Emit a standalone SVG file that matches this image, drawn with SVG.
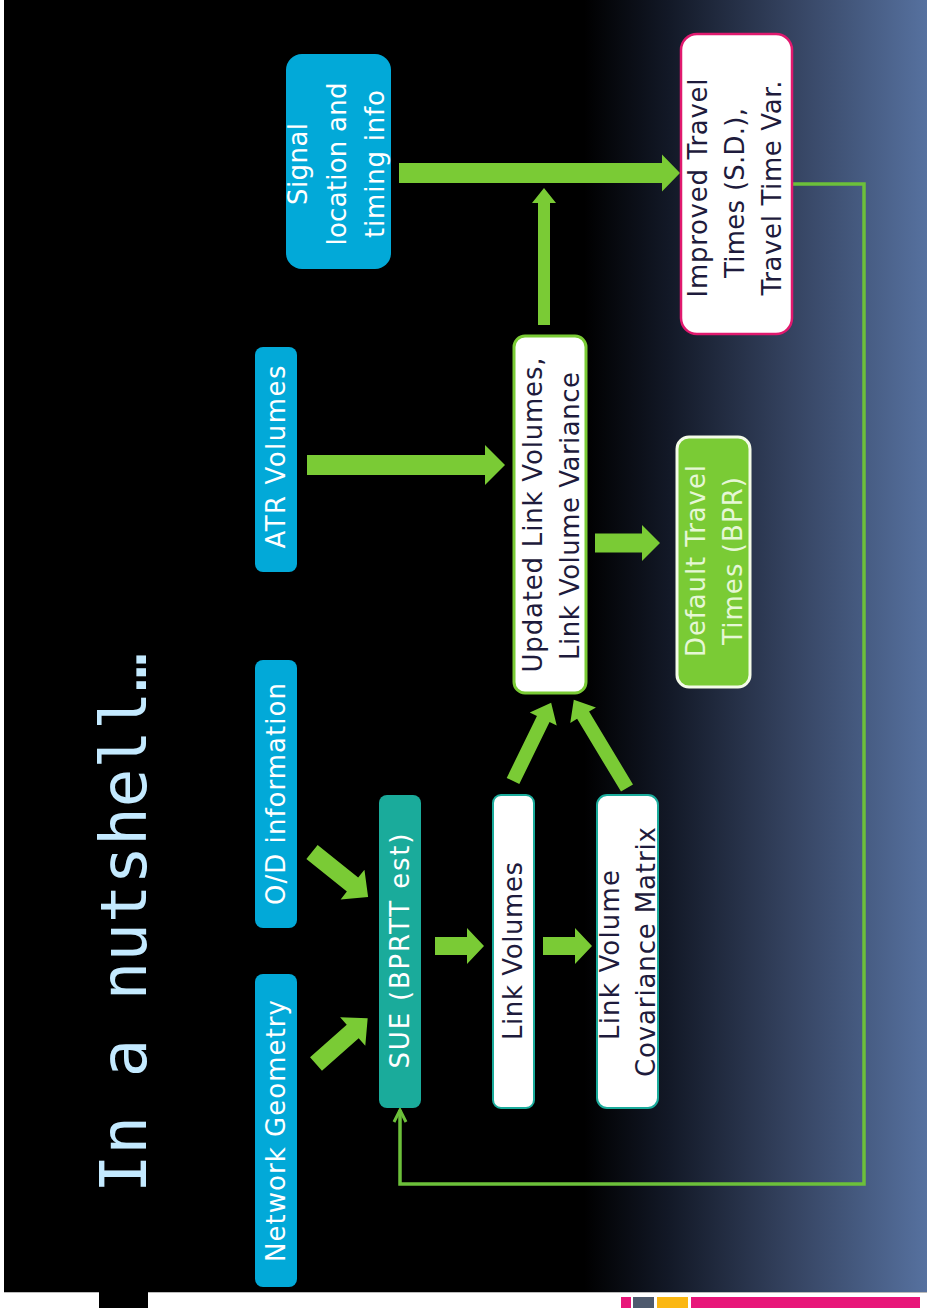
<svg xmlns="http://www.w3.org/2000/svg" width="927" height="1311" viewBox="0 0 927 1311">
<defs>
<linearGradient id="bg" x1="0" y1="0" x2="927" y2="0" gradientUnits="userSpaceOnUse">
<stop offset="0" stop-color="#000"/>
<stop offset="0.63" stop-color="#000"/>
<stop offset="0.72" stop-color="#121826"/>
<stop offset="0.85" stop-color="#34425f"/>
<stop offset="1" stop-color="#56719f"/>
</linearGradient>
<marker id="open" viewBox="0 0 16 16" refX="14" refY="8" markerWidth="16" markerHeight="16" markerUnits="userSpaceOnUse" orient="auto">
<path d="M2,2 L14,8 L2,14" fill="none" stroke="#6cc03a" stroke-width="3"/>
</marker>
<style>
.t{font-family:"DejaVu Sans","Open Sans",sans-serif;font-size:26px;text-anchor:middle}
.w{fill:#ffffff}
.d{fill:#1e1b3c}
.g{fill:#e6f7d6}
.blue{fill:#02a9d8}
.arr{fill:#7acb35}
</style>
</defs>
<rect x="0" y="0" width="927" height="1311" fill="#fff"/>
<rect x="4" y="0" width="923" height="1292" fill="url(#bg)"/>
<line x1="4" y1="1292.5" x2="927" y2="1292.5" stroke="#bbb" stroke-width="1"/>
<rect x="99" y="1292" width="49" height="16" fill="#000"/>
<g id="colorbar">
<rect x="621" y="1297" width="10" height="11" fill="#e8177a"/>
<rect x="633" y="1297" width="21" height="11" fill="#4e5a6e"/>
<rect x="657" y="1297" width="31" height="11" fill="#fbb712"/>
<rect x="691" y="1297" width="229" height="11" fill="#e8177a"/>
</g>
<g id="title">
<text transform="translate(146,1193) rotate(-90)" font-family="'DejaVu Sans Mono',monospace" font-size="64" fill="#c4eaff" textLength="540">In a nutshell…</text>
</g>

<g id="connectors">
<polygon class="arr" transform="translate(316,1064) rotate(-41.5)" points="0,-9 49,-9 49,-19 69,0 49,19 49,9 0,9"/>
<polygon class="arr" transform="translate(312,852) rotate(38.8)" points="0,-9 52,-9 52,-19 72,0 52,19 52,9 0,9"/>
<polygon class="arr" transform="translate(435,946)" points="0,-9 32,-9 32,-18 49,0 32,18 32,9 0,9"/>
<polygon class="arr" transform="translate(543,946)" points="0,-9 32,-9 32,-18 49,0 32,18 32,9 0,9"/>
<polygon class="arr" transform="translate(513,781) rotate(-64)" points="0,-7 69,-7 69,-15 87,0 69,15 69,7 0,7"/>
<polygon class="arr" transform="translate(627,788) rotate(-121.1)" points="0,-7 85,-7 85,-15 103,0 85,15 85,7 0,7"/>
<polygon class="arr" transform="translate(307,465)" points="0,-10 178,-10 178,-20 198,0 178,20 178,10 0,10"/>
<polygon class="arr" transform="translate(595,543)" points="0,-9.5 47,-9.5 47,-18 65,0 47,18 47,9.5 0,9.5"/>
<polygon class="arr" transform="translate(544,325) rotate(-90)" points="0,-6 122,-6 122,-12 137,0 122,12 122,6 0,6"/>
<polygon class="arr" transform="translate(399,173)" points="0,-10 263,-10 263,-18.5 281,0 263,18.5 263,10 0,10"/>
<path d="M793,184 H864 V1184 H400 V1110" fill="none" stroke="#6cc03a" stroke-width="3.5" marker-end="url(#open)"/>
</g>

<g id="network-geometry">
<rect class="blue" x="255" y="974" width="42" height="313" rx="8"/>
<text class="t w" transform="translate(285,1131) rotate(-90)" textLength="262">Network Geometry</text>
</g>
<g id="od-information">
<rect class="blue" x="255" y="660" width="42" height="268" rx="8"/>
<text class="t w" transform="translate(285,794) rotate(-90)" textLength="222">O/D information</text>
</g>
<g id="atr-volumes">
<rect class="blue" x="255" y="347" width="42" height="225" rx="8"/>
<text class="t w" transform="translate(285,457) rotate(-90)" textLength="183">ATR Volumes</text>
</g>
<g id="signal-info">
<rect class="blue" x="286" y="54" width="105" height="215" rx="16"/>
<text class="t w" transform="translate(307,164) rotate(-90)" textLength="82">Signal</text>
<text class="t w" transform="translate(346,164) rotate(-90)" textLength="163">location and</text>
<text class="t w" transform="translate(384,164) rotate(-90)" textLength="148">timing info</text>
</g>
<g id="sue">
<rect x="379" y="795" width="42" height="313" rx="8" fill="#1aab9b"/>
<text class="t w" transform="translate(409,951) rotate(-90)" textLength="235">SUE (BPRTT est)</text>
</g>
<g id="link-volumes">
<rect x="493" y="795" width="41" height="313" rx="8" fill="#fff" stroke="#1aab9b" stroke-width="2"/>
<text class="t d" transform="translate(522,951) rotate(-90)" textLength="178">Link Volumes</text>
</g>
<g id="link-volume-covariance">
<rect x="597" y="795" width="61" height="313" rx="10" fill="#fff" stroke="#1aab9b" stroke-width="2"/>
<text class="t d" transform="translate(619,955) rotate(-90)" textLength="170">Link Volume</text>
<text class="t d" transform="translate(655,952) rotate(-90)" textLength="250">Covariance Matrix</text>
</g>
<g id="updated-link-volumes">
<rect x="514" y="336" width="72" height="357" rx="11" fill="#fff" stroke="#7acb35" stroke-width="3"/>
<text class="t d" transform="translate(542,515) rotate(-90)" textLength="315">Updated Link Volumes,</text>
<text class="t d" transform="translate(579,516) rotate(-90)" textLength="288">Link Volume Variance</text>
</g>
<g id="default-travel-times">
<rect x="677" y="437" width="73" height="250" rx="12" fill="#7acb35" stroke="#f4fbe8" stroke-width="3"/>
<text class="t g" transform="translate(705,561) rotate(-90)" textLength="192">Default Travel</text>
<text class="t g" transform="translate(742,561) rotate(-90)" textLength="168">Times (BPR)</text>
</g>
<g id="improved-travel-times">
<rect x="681" y="34" width="111" height="300" rx="16" fill="#fff" stroke="#e0196e" stroke-width="2.5"/>
<text class="t d" transform="translate(707,188) rotate(-90)" textLength="219">Improved Travel</text>
<text class="t d" transform="translate(744,193) rotate(-90)" textLength="170">Times (S.D.),</text>
<text class="t d" transform="translate(781,188) rotate(-90)" textLength="215">Travel Time Var.</text>
</g>
</svg>
